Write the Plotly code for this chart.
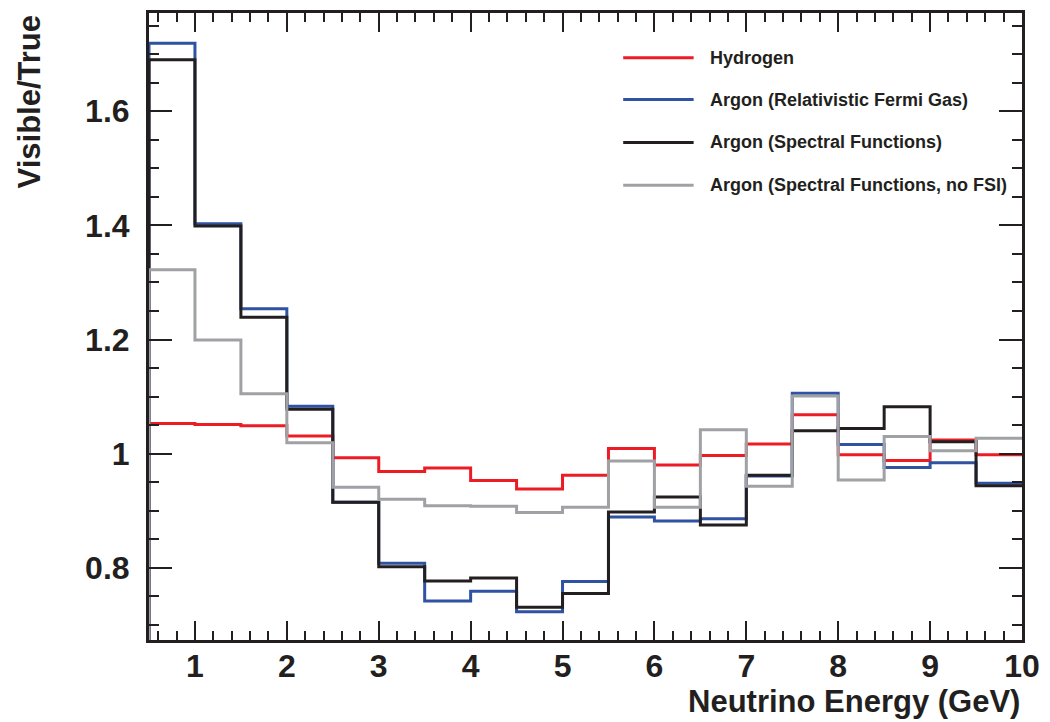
import plotly.graph_objects as go

# ---------------- data ----------------
bin_edges = [0.5, 1.0, 1.5, 2.0, 2.5, 3.0, 3.5, 4.0, 4.5, 5.0, 5.5, 6.0, 6.5, 7.0,
             7.5, 8.0, 8.5, 9.0, 9.5, 10.0]
hydrogen = [1.053, 1.051, 1.049, 1.031, 0.993, 0.969, 0.975, 0.953, 0.938, 0.962,
            1.009, 0.980, 0.997, 1.017, 1.068, 0.998, 0.988, 1.024, 0.998]
argon_rfg = [1.719, 1.403, 1.254, 1.083, 0.915, 0.808, 0.742, 0.759, 0.723, 0.776,
             0.889, 0.882, 0.886, 0.961, 1.106, 1.016, 0.976, 0.984, 0.948]
argon_sf = [1.690, 1.399, 1.239, 1.078, 0.915, 0.802, 0.777, 0.782, 0.731, 0.755,
            0.898, 0.924, 0.875, 0.962, 1.040, 1.044, 1.082, 1.021, 0.944]
argon_sf_nofsi = [1.322, 1.199, 1.105, 1.019, 0.941, 0.920, 0.909, 0.908, 0.897, 0.906,
                  0.987, 0.906, 1.042, 0.943, 1.101, 0.954, 1.030, 1.005, 1.027]
series_names = ["Hydrogen", "Argon (Relativistic Fermi Gas)",
                "Argon (Spectral Functions)", "Argon (Spectral Functions, no FSI)"]
x_tick_vals = [1, 2, 3, 4, 5, 6, 7, 8, 9, 10]
y_tick_vals = [0.8, 1.0, 1.2, 1.4, 1.6]
y_tick_text = ["0.8", "1", "1.2", "1.4", "1.6"]

# ---------------- style ----------------
colors = ["#ed1c24", "#2f52a3", "#231f20", "#a0a1a5"]
ink = "#231f20"
font_family = "Liberation Sans, Arial, sans-serif"
y_range = [0.6736, 1.772]
x_range = [0.5, 10.0]
L, R, T, B = 149, 21, 10, 82
W, H = 1050, 722

fig = go.Figure()
series = [hydrogen, argon_rfg, argon_sf, argon_sf_nofsi]
for name, vals, col in zip(series_names, series, colors):
    # ROOT-style histogram outline: start at the frame base, step through bins
    xs = [bin_edges[0]] + list(bin_edges)
    ys = [y_range[0]] + list(vals) + [vals[-1]]
    fig.add_trace(go.Scatter(x=xs, y=ys, mode="lines", line_shape="hv",
                             line=dict(color=col, width=3), name=name,
                             showlegend=False, hoverinfo="skip"))

axis_common = dict(showline=True, linecolor=ink, linewidth=3, mirror="allticks",
                   ticks="inside", tickcolor=ink, tickwidth=2, showgrid=False,
                   zeroline=False,
                   tickfont=dict(family=font_family, size=32, color=ink, weight="bold"))

fig.update_xaxes(range=x_range, tickvals=x_tick_vals, ticklen=19,
                 ticklabelstandoff=-4,
                 minor=dict(ticks="inside", ticklen=9, dtick=0.2, tick0=0,
                            tickcolor=ink, tickwidth=1.5, showgrid=False),
                 **axis_common)
fig.update_yaxes(range=y_range, tickvals=y_tick_vals, ticktext=y_tick_text,
                 ticklen=23, ticklabelstandoff=10,
                 minor=dict(ticks="inside", ticklen=10, dtick=0.05, tick0=0,
                            tickcolor=ink, tickwidth=1.5, showgrid=False),
                 **axis_common)

pw, ph = W - L - R, H - T - B

def px_to_paper_x(px):
    return (px - L) / pw

def px_to_paper_y(py):
    return (H - B - py) / ph

# axis titles
fig.add_annotation(text="Visible/True", xref="paper", yref="paper",
                   x=px_to_paper_x(29), y=1.0, xanchor="center", yanchor="top",
                   textangle=-90, showarrow=False,
                   font=dict(family=font_family, size=31, color=ink, weight="bold"))
fig.add_annotation(text="Neutrino Energy (GeV)", xref="paper", yref="paper",
                   x=1.0, y=px_to_paper_y(702), xanchor="right", yanchor="middle",
                   showarrow=False,
                   font=dict(family=font_family, size=31, color=ink, weight="bold"))

# legend (drawn manually, ROOT TLegend style)
legend_rows_px = [55, 97, 140, 183]
for name, col, py in zip(series_names, colors, legend_rows_px):
    fig.add_shape(type="line", xref="paper", yref="paper",
                  x0=px_to_paper_x(627), x1=px_to_paper_x(698),
                  y0=px_to_paper_y(py), y1=px_to_paper_y(py),
                  line=dict(color=col, width=3))
    fig.add_annotation(text=name, xref="paper", yref="paper",
                       x=px_to_paper_x(712), y=px_to_paper_y(py),
                       xanchor="left", yanchor="middle", showarrow=False,
                       font=dict(family=font_family, size=18, color=ink, weight="bold"))

fig.update_layout(width=W, height=H, margin=dict(l=L, r=R, t=T, b=B),
                  paper_bgcolor="white", plot_bgcolor="white", showlegend=False)

fig.write_html("out.html", config={"displayModeBar": False},
               post_script="document.body.style.margin='0px';")
